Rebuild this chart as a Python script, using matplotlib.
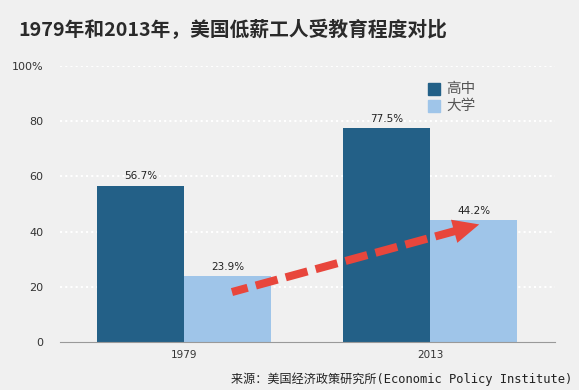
import matplotlib
matplotlib.use("Agg")
import numpy as np
import matplotlib.pyplot as plt
from matplotlib.patches import Rectangle, Polygon
from matplotlib.transforms import IdentityTransform

plt.rcParams['font.family'] = ['Noto Sans CJK SC', 'DejaVu Sans']

years = ["1979", "2013"]
series_names = ["高中", "大学"]
high_school = [56.7, 77.5]
college = [23.9, 44.2]
yticks = [0, 20, 40, 60, 80, 100]
ytick_labels = ["0", "20", "40", "60", "80", "100%"]
arrow_start = (0.195, 18.1)
arrow_end = (1.2, 42.6)

bg = "#f0f0f0"
c_dark = "#236087"
c_light = "#9fc5e9"
c_red = "#e8463c"

fig = plt.figure(figsize=(5.79, 3.90), dpi=100, facecolor=bg)
ax = fig.add_axes([60/579, (390-342)/390, (555-60)/579, (342-66)/390])
ax.set_facecolor(bg)

w = 0.354
xs = list(range(len(years)))
ax.bar([x - w/2 for x in xs], high_school, width=w, color=c_dark, zorder=2)
ax.bar([x + w/2 for x in xs], college, width=w, color=c_light, zorder=2)

for x, v in zip(xs, high_school):
    ax.text(x - w/2, v + 1.5, f"{v}%", ha="center", va="bottom", fontsize=7.5, color="#222222", family=['DejaVu Sans'])
for x, v in zip(xs, college):
    ax.text(x + w/2, v + 1.5, f"{v}%", ha="center", va="bottom", fontsize=7.5, color="#222222", family=['DejaVu Sans'])

ax.set_xlim(-0.504, 1.508)
ax.set_ylim(0, 100)
ax.set_yticks(yticks)
ax.set_yticklabels(ytick_labels, fontsize=8, color="#333333", family=['DejaVu Sans'])
ax.set_xticks(xs)
ax.set_xticklabels(years, fontsize=7.5, color="#333333", family=['DejaVu Sans'])
ax.tick_params(axis='y', length=0, pad=12)
ax.tick_params(axis='x', length=0, pad=6)
for y in yticks[1:]:
    ax.axhline(y, color="white", linestyle=(0, (1, 1.5)), linewidth=1.5, zorder=1)
for s in ["top", "right", "left"]:
    ax.spines[s].set_visible(False)
ax.spines["bottom"].set_color("#999999")
ax.spines["bottom"].set_linewidth(0.8)

# arrow: dashed shaft + solid triangular head (head geometry in pixels)
p0 = ax.transData.transform(arrow_start)
p1 = ax.transData.transform(arrow_end)
u = (p1 - p0) / np.hypot(*(p1 - p0))
n = np.array([-u[1], u[0]])
head_len, head_w = 26, 24
base = p1 - head_len * u
tri = np.array([p1, base + n * head_w / 2, base - n * head_w / 2])
shaft_end = ax.transData.inverted().transform(base + u * 3)
ax.plot([shaft_end[0], arrow_start[0]], [shaft_end[1], arrow_start[1]], color=c_red,
        linewidth=5.8, linestyle=(0, (2.8, 1.05)), dash_capstyle="butt", zorder=5)
ax.add_artist(Polygon(tri, closed=True, transform=IdentityTransform(), color=c_red,
                      linewidth=0, zorder=6))

# legend
for i, (name, c) in enumerate(zip(series_names, [c_dark, c_light])):
    y = 89 + i * 17
    fig.patches.append(Rectangle((428/579, 1 - (y + 6)/390), 12/579, 12/390,
                                 transform=fig.transFigure, color=c, figure=fig))
    fig.text(446/579, 1 - y/390, name, fontsize=10.5, color="#555555", va="center", ha="left")

fig.text(18/579, 1 - 30/390, "1979年和2013年，美国低薪工人受教育程度对比", fontsize=14.2,
         fontweight="bold", color="#2a2a2a", va="center", ha="left")
fig.text(572/579, 1 - 379/390, "来源：美国经济政策研究所(Economic Policy Institute)", fontsize=8.7,
         family=['DejaVu Sans Mono', 'Noto Sans CJK SC'],
         color="#222222", va="center", ha="right")

fig.savefig("out.png", dpi=100, facecolor=bg)
